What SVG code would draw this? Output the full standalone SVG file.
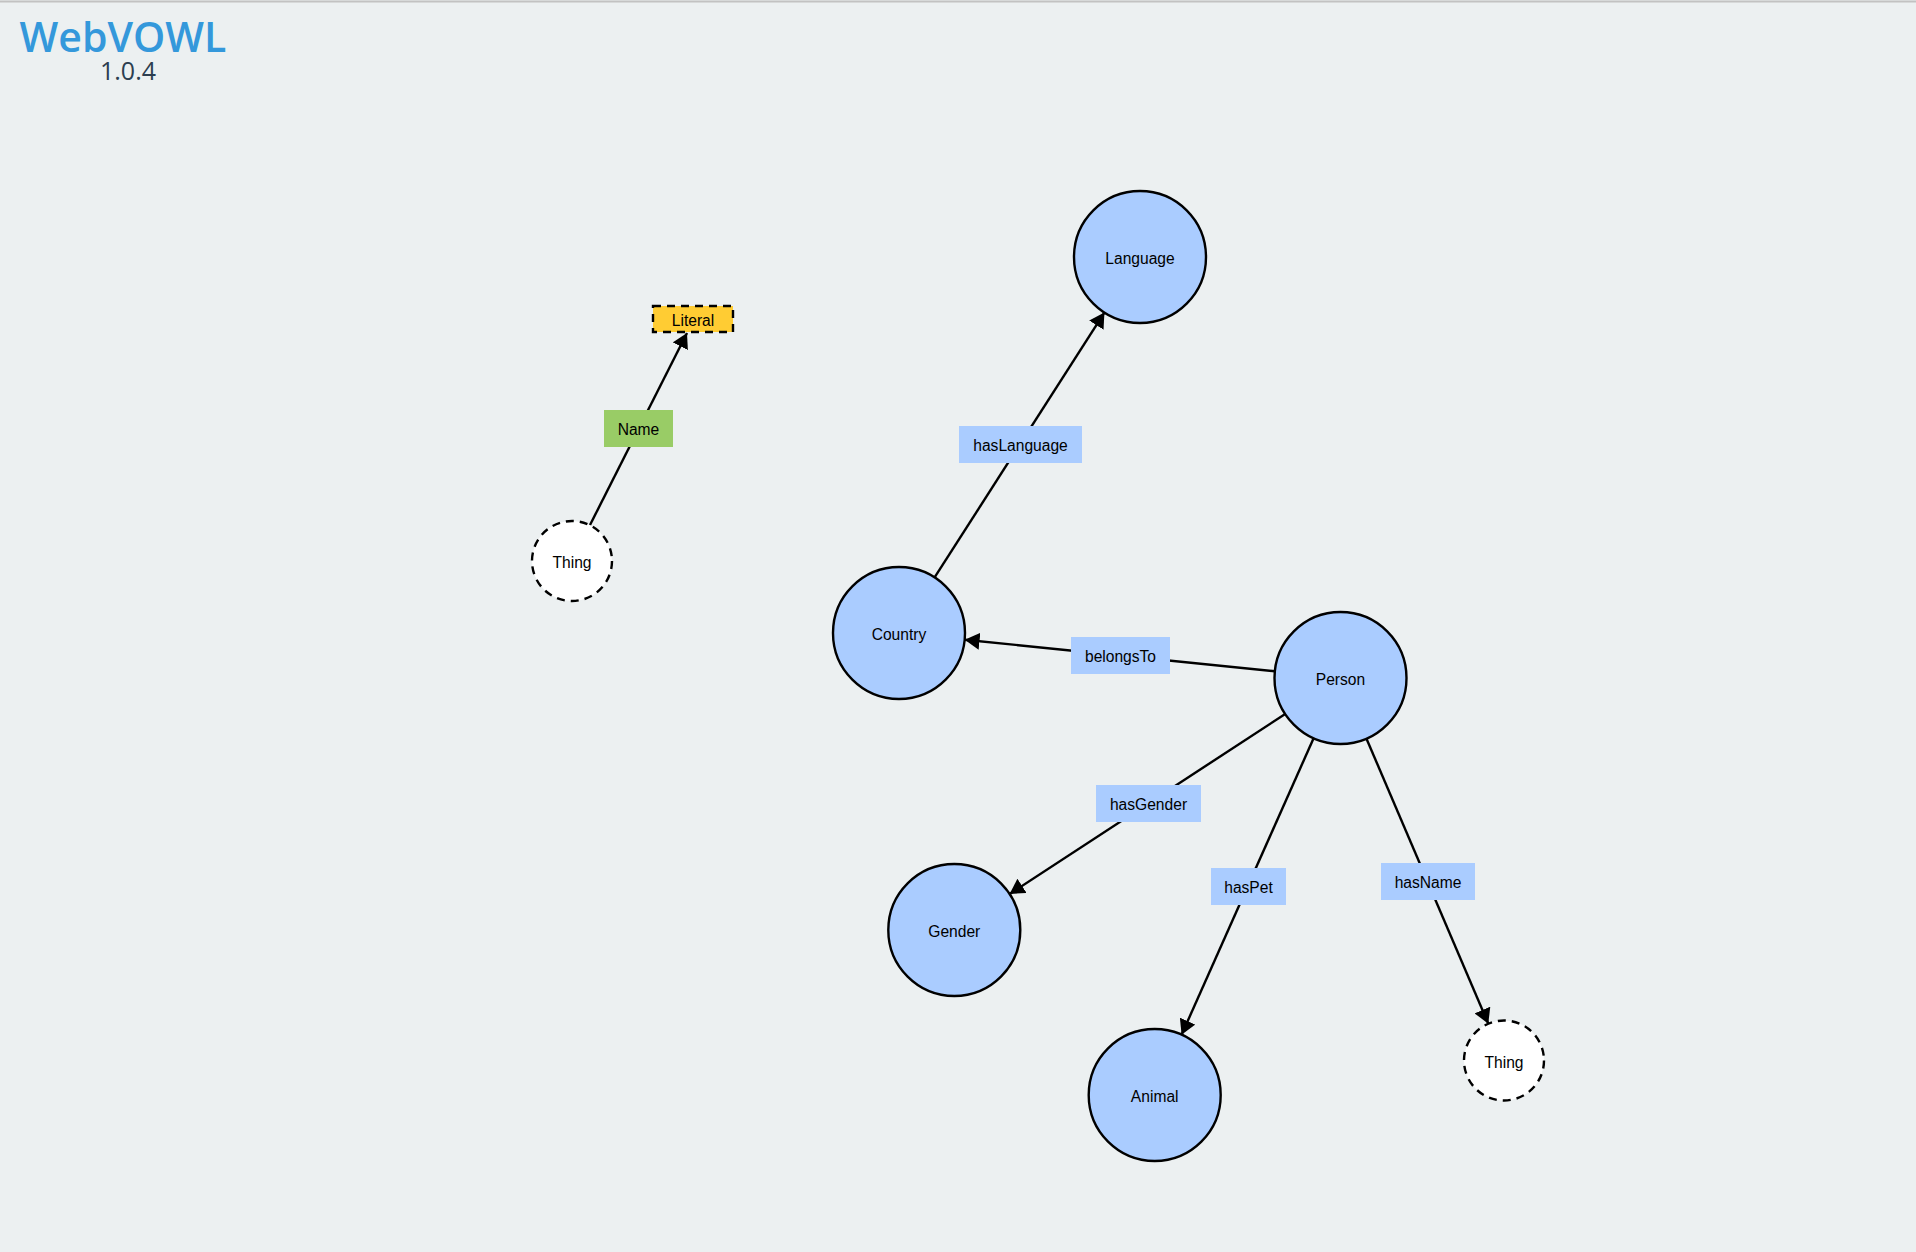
<svg xmlns="http://www.w3.org/2000/svg" width="1916" height="1252" viewBox="0 0 1916 1252">
<style>
.bg{fill:#ecf0f1}
.cls{fill:#aaccff;stroke:#000;stroke-width:2.4}
.ext{fill:#ffffff;stroke:#000;stroke-width:2.4;stroke-dasharray:8,6}
.lit{fill:#ffcc33;stroke:#000;stroke-width:2.4;stroke-dasharray:8,6}
.op{fill:#aaccff}
.dp{fill:#99cc66}
.lnk{stroke:#000;stroke-width:2.4;fill:none}
.t{font-family:"Liberation Sans",Arial,sans-serif;font-size:15.6px;fill:#000;text-anchor:middle}
</style>
<defs>
<marker id="arr" viewBox="0 -8 14 16" refX="14" refY="0" markerWidth="15" markerHeight="17" markerUnits="userSpaceOnUse" orient="auto">
<path d="M0,-8L14,0L0,8z" fill="#000"/>
</marker>
</defs>
<rect class="bg" x="0" y="0" width="1916" height="1252"/>
<line x1="0" y1="1.5" x2="1916" y2="1.5" stroke="#c2c2c2" stroke-width="2"/>
<g id="title">
<text x="123" y="52" font-family="'Open Sans','Noto Sans',sans-serif" font-size="41" font-weight="600" fill="#3498db" text-anchor="middle">WebVOWL</text>
<text x="128" y="80" font-family="'Open Sans','Noto Sans',sans-serif" font-size="25" fill="#2c3e50" text-anchor="middle">1.0.4</text>
</g>
<g id="connectors">
<line class="lnk" x1="590" y1="525" x2="687" y2="333" marker-end="url(#arr)"/>
<line class="lnk" x1="934.6" y1="577.4" x2="1104.4" y2="312.6" marker-end="url(#arr)"/>
<line class="lnk" x1="1274.8" y1="671.3" x2="964.7" y2="639.7" marker-end="url(#arr)"/>
<line class="lnk" x1="1285.2" y1="714" x2="1009.6" y2="894" marker-end="url(#arr)"/>
<line class="lnk" x1="1313.6" y1="738.3" x2="1181.6" y2="1034.7" marker-end="url(#arr)"/>
<line class="lnk" x1="1366.5" y1="738.7" x2="1488.3" y2="1023.7" marker-end="url(#arr)"/>
</g>
<g id="node-language"><circle class="cls" cx="1140" cy="257" r="66"/><text class="t" x="1140" y="264">Language</text></g>
<g id="node-country"><circle class="cls" cx="899" cy="633" r="66"/><text class="t" x="899" y="640">Country</text></g>
<g id="node-person"><circle class="cls" cx="1340.5" cy="678" r="66"/><text class="t" x="1340.5" y="685">Person</text></g>
<g id="node-gender"><circle class="cls" cx="954.3" cy="930" r="66"/><text class="t" x="954.3" y="937">Gender</text></g>
<g id="node-animal"><circle class="cls" cx="1154.7" cy="1095" r="66"/><text class="t" x="1154.7" y="1102">Animal</text></g>
<g id="node-thing-right"><circle class="ext" cx="1504" cy="1060.5" r="40"/><text class="t" x="1504" y="1067.5">Thing</text></g>
<g id="node-thing-left"><circle class="ext" cx="572" cy="561" r="40"/><text class="t" x="572" y="568">Thing</text></g>
<g id="node-literal"><rect class="lit" x="653" y="306" width="80" height="26"/><text class="t" x="693" y="326">Literal</text></g>
<g id="prop-name"><rect class="dp" x="604" y="410" width="69" height="37"/><text class="t" x="638.5" y="435">Name</text></g>
<g id="prop-haslanguage"><rect class="op" x="959" y="426" width="123" height="37"/><text class="t" x="1020.5" y="451">hasLanguage</text></g>
<g id="prop-belongsto"><rect class="op" x="1071" y="637" width="99" height="37"/><text class="t" x="1120.5" y="662">belongsTo</text></g>
<g id="prop-hasgender"><rect class="op" x="1096" y="785" width="105" height="37"/><text class="t" x="1148.5" y="810">hasGender</text></g>
<g id="prop-haspet"><rect class="op" x="1211" y="868" width="75" height="37"/><text class="t" x="1248.5" y="893">hasPet</text></g>
<g id="prop-hasname"><rect class="op" x="1381" y="863" width="94" height="37"/><text class="t" x="1428" y="888">hasName</text></g>
</svg>
